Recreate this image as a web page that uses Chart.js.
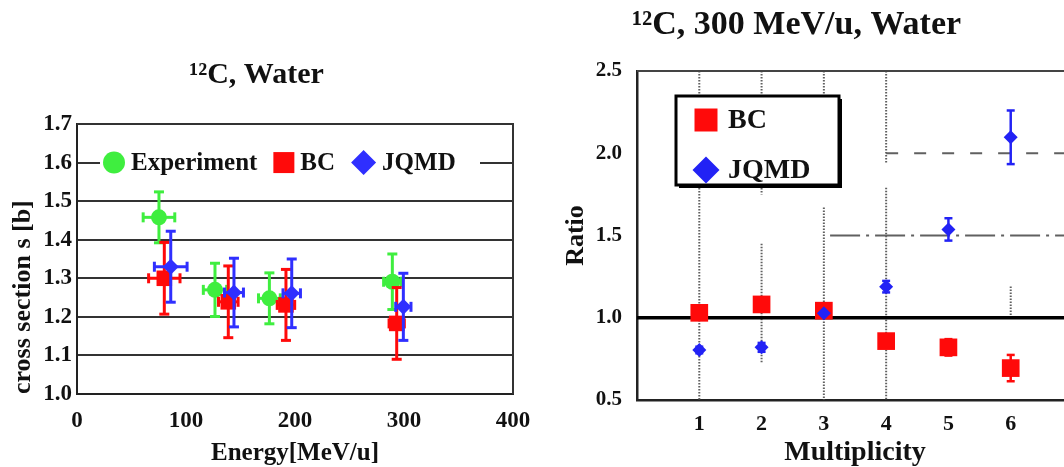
<!DOCTYPE html>
<html>
<head>
<meta charset="utf-8">
<script src="https://cdn.jsdelivr.net/npm/chart.js@4.4.1/dist/chart.umd.min.js"></script>
<style>
  html, body { margin: 0; padding: 0; background: #fff; width: 1064px; height: 467px; overflow: hidden; }
  canvas { position: absolute; top: 0; }
  #energyChart { left: 0; }
  #multiplicityChart { left: 520px; }
</style>
</head>
<body>
<canvas id="energyChart" width="530" height="467"></canvas>
<canvas id="multiplicityChart" width="556" height="467"></canvas>
<script>
// ---- Cross section vs. beam energy (12C on water) ----
const energyExp     = [75.2, 126.6, 176.5, 289.3];
const energyExpErr  = [14.5, 10.7, 10.0, 8.0];
const xsExp         = [1.458, 1.270, 1.248, 1.291];
const xsExpErr      = [0.066, 0.069, 0.066, 0.072];

const energyBC      = [80.1, 138.8, 191.7, 293.3];
const energyBCErr   = [14.4, 9.0, 8.0, 7.0];
const xsBC          = [1.300, 1.239, 1.231, 1.183];
const xsBCErr       = [0.093, 0.093, 0.092, 0.093];

const energyJQMD    = [86.0, 144.0, 197.0, 299.4];
const energyJQMDErr = [15.0, 8.7, 8.0, 7.0];
const xsJQMD        = [1.330, 1.263, 1.261, 1.226];
const xsJQMDErr     = [0.092, 0.089, 0.089, 0.087];

const energyTicks = [0, 100, 200, 300, 400];
const xsTicks     = [1.0, 1.1, 1.2, 1.3, 1.4, 1.5, 1.6, 1.7];

// ---- Ratio to experiment vs. fragment multiplicity (300 MeV/u) ----
const multiplicity  = [1, 2, 3, 4, 5, 6];
const ratioBC       = [1.030, 1.081, 1.043, 0.858, 0.820, 0.694];
const ratioBCErr    = [0, 0, 0, 0, 0.05, 0.08];
const ratioJQMD     = [0.804, 0.820, 1.027, 1.189, 1.537, 2.097];
const ratioJQMDErr  = [0.02, 0.027, 0, 0.035, 0.068, 0.163];
const ratioTicks    = [0.5, 1.0, 1.5, 2.0, 2.5];

const SERIF = "'Liberation Serif', 'Times New Roman', serif";
const GREEN = '#3fee3f', RED = '#ff0a0a', BLUE = '#2f2fff';

const pts = (xs, ys) => xs.map((x, i) => ({ x, y: ys[i] }));

function drawMarker(ctx, style, x, y, r, color) {
  ctx.save();
  ctx.fillStyle = color;
  ctx.beginPath();
  if (style === 'circle') {
    ctx.arc(x, y, r, 0, Math.PI * 2);
  } else if (style === 'rect') {
    ctx.rect(x - r, y - r, 2 * r, 2 * r);
  } else {
    ctx.moveTo(x, y - r); ctx.lineTo(x + r, y); ctx.lineTo(x, y + r); ctx.lineTo(x - r, y); ctx.closePath();
  }
  ctx.fill();
  ctx.restore();
}

// Error bars with caps, drawn just before each dataset's own markers
const errorBars = {
  id: 'errorBars',
  beforeDatasetDraw(chart, args, opts) {
    const ds = chart.data.datasets[args.index];
    const xs = chart.scales.x, ys = chart.scales.y, ctx = chart.ctx;
    const seg = (a, b, c, d) => { ctx.beginPath(); ctx.moveTo(a, b); ctx.lineTo(c, d); ctx.stroke(); };
    ctx.save();
    ctx.strokeStyle = ds.backgroundColor;
    ctx.lineWidth = opts.width;
    const cap = opts.cap;
    ds.data.forEach((p, i) => {
      const px = xs.getPixelForValue(p.x), py = ys.getPixelForValue(p.y);
      const ey = ds.errorY ? ds.errorY[i] : 0;
      const ex = ds.errorX ? ds.errorX[i] : 0;
      if (ey) {
        const t = ys.getPixelForValue(p.y + ey), b = ys.getPixelForValue(p.y - ey);
        seg(px, t, px, b); seg(px - cap, t, px + cap, t); seg(px - cap, b, px + cap, b);
      }
      if (ex) {
        const l = xs.getPixelForValue(p.x - ex), r = xs.getPixelForValue(p.x + ex);
        seg(l, py, r, py); seg(l, py - cap, l, py + cap); seg(r, py - cap, r, py + cap);
      }
    });
    ctx.restore();
  }
};

// Right and top edges of the plot frame
const frame = {
  id: 'frame',
  afterDatasetsDraw(chart, args, opts) {
    const { ctx, chartArea: a } = chart;
    ctx.save();
    ctx.strokeStyle = opts.color; ctx.lineWidth = 2;
    ctx.beginPath();
    ctx.moveTo(a.left, a.top); ctx.lineTo(a.right, a.top);
    if (opts.right) { ctx.lineTo(a.right, a.bottom); }
    ctx.stroke();
    ctx.restore();
  }
};

// One-row legend placed inside the plot on the 1.6 grid line
const rowLegend = {
  id: 'rowLegend',
  afterDatasetsDraw(chart, args, opts) {
    const { ctx, chartArea: a } = chart;
    const y = chart.scales.y.getPixelForValue(opts.atValue);
    ctx.save();
    ctx.font = `bold 25px ${SERIF}`;
    ctx.textBaseline = 'middle';
    ctx.fillStyle = '#fff';
    ctx.fillRect(a.left + 23, y - 15, 380, 30);
    let cx = a.left + 26;
    chart.data.datasets.forEach((ds, i) => {
      const r = opts.sizes[i];
      drawMarker(ctx, ds.pointStyle === 'rectRot' ? 'diamond' : ds.pointStyle, cx + r, y, r, ds.backgroundColor);
      cx += 2 * r + 6;
      ctx.fillStyle = '#111';
      ctx.fillText(ds.label, cx, y + 1);
      cx += ctx.measureText(ds.label).width + 16;
    });
    ctx.restore();
  }
};

new Chart(document.getElementById('energyChart'), {
  type: 'scatter',
  data: {
    datasets: [
      { label: 'Experiment', data: pts(energyExp, xsExp), errorX: energyExpErr, errorY: xsExpErr,
        backgroundColor: GREEN, borderColor: GREEN, pointStyle: 'circle', pointRadius: 8, borderWidth: 0, order: 3 },
      { label: 'BC', data: pts(energyBC, xsBC), errorX: energyBCErr, errorY: xsBCErr,
        backgroundColor: RED, borderColor: RED, pointStyle: 'rect', pointRadius: 11, borderWidth: 0, order: 2 },
      { label: 'JQMD', data: pts(energyJQMD, xsJQMD), errorX: energyJQMDErr, errorY: xsJQMDErr,
        backgroundColor: BLUE, borderColor: BLUE, pointStyle: 'rectRot', pointRadius: 8, borderWidth: 0, order: 1 }
    ]
  },
  options: {
    responsive: false, animation: false, devicePixelRatio: 1,
    layout: { autoPadding: false, padding: { left: 0, right: 17, top: 0, bottom: 0 } },
    plugins: {
      legend: { display: false }, tooltip: { enabled: false },
      title: { display: true, text: '¹²C, Water', color: '#111',
        font: { family: SERIF, size: 30, weight: 'bold', lineHeight: 1.2 }, padding: { top: 57, bottom: 31 } },
      errorBars: { width: 3, cap: 5 },
      frame: { color: '#333', right: true },
      rowLegend: { atValue: 1.6, sizes: [11, 10.5, 12.5] }
    },
    scales: {
      x: {
        type: 'linear', min: energyTicks[0], max: energyTicks[energyTicks.length - 1],
        afterBuildTicks: s => { s.ticks = energyTicks.map(v => ({ value: v })); },
        afterFit: s => { s.height = 73; s.paddingRight = 0; s.paddingLeft = 0; },
        grid: { display: false, drawTicks: false },
        border: { display: true, color: '#222', width: 2 },
        ticks: { padding: 13, color: '#111', font: { family: SERIF, size: 23, weight: 'bold' } },
        title: { display: true, text: 'Energy[MeV/u]', color: '#111', padding: { top: 0, bottom: 1 },
          font: { family: SERIF, size: 25, weight: 'bold', lineHeight: 1 } }
      },
      y: {
        min: xsTicks[0], max: xsTicks[xsTicks.length - 1],
        afterBuildTicks: s => { s.ticks = xsTicks.map(v => ({ value: v })); },
        afterFit: s => { s.width = 77; },
        grid: { color: '#333', lineWidth: 2, drawTicks: false },
        border: { display: true, color: '#222', width: 2 },
        ticks: { padding: 5, color: '#111', font: { family: SERIF, size: 23, weight: 'bold' },
          callback: v => Number(v).toFixed(1) },
        title: { display: true, text: 'cross section s [b]', color: '#111', align: 'start',
          padding: { top: 10, bottom: 0 }, font: { family: SERIF, size: 26, weight: 'bold', lineHeight: 1 } }
      }
    }
  },
  plugins: [errorBars, frame, rowLegend]
});

// Dotted / dashed guide lines and the unity line of the ratio panel
const ratioGuides = {
  id: 'ratioGuides',
  beforeDatasetsDraw(chart, args, opts) {
    const { ctx, chartArea: a } = chart;
    const xs = chart.scales.x, ys = chart.scales.y;
    ctx.save();
    ctx.strokeStyle = '#606060';
    ctx.lineWidth = 2;
    ctx.setLineDash([1.5, 1.5]);
    opts.vertical.forEach(g => {
      const x = xs.getPixelForValue(g.x);
      ctx.beginPath(); ctx.moveTo(x, ys.getPixelForValue(g.to)); ctx.lineTo(x, ys.getPixelForValue(g.from)); ctx.stroke();
    });
    opts.horizontal.forEach(g => {
      const y = ys.getPixelForValue(g.y);
      ctx.setLineDash(g.dash);
      ctx.beginPath(); ctx.moveTo(xs.getPixelForValue(g.from), y); ctx.lineTo(xs.getPixelForValue(g.to), y); ctx.stroke();
    });
    ctx.setLineDash([]);
    ctx.strokeStyle = '#000';
    ctx.lineWidth = 3.5;
    const y1 = ys.getPixelForValue(opts.unity);
    ctx.beginPath(); ctx.moveTo(a.left, y1); ctx.lineTo(a.right, y1); ctx.stroke();
    ctx.restore();
  }
};

// Boxed legend in the upper-left corner of the ratio panel
const boxLegend = {
  id: 'boxLegend',
  afterDraw(chart, args, opts) {
    const { ctx, chartArea: a } = chart;
    const bx = a.left + 39, by = a.top + 25, bw = 163, bh = 89;
    ctx.save();
    ctx.fillStyle = '#000';
    ctx.fillRect(bx + 3, by + 3, bw, bh);
    ctx.fillStyle = '#fff';
    ctx.fillRect(bx, by, bw, bh);
    ctx.strokeStyle = '#000'; ctx.lineWidth = 3;
    ctx.strokeRect(bx, by, bw, bh);
    ctx.font = `bold 28px ${SERIF}`;
    ctx.textBaseline = 'middle';
    chart.data.datasets.forEach((ds, i) => {
      const cy = by + 24 + i * 50;
      const isRect = ds.pointStyle === 'rect';
      drawMarker(ctx, isRect ? 'rect' : 'diamond', bx + 30, cy, isRect ? 11.5 : 13.5, ds.backgroundColor);
      ctx.fillStyle = '#111';
      ctx.fillText(ds.label, bx + 52, cy + 1);
    });
    ctx.restore();
  }
};

new Chart(document.getElementById('multiplicityChart'), {
  type: 'scatter',
  data: {
    datasets: [
      { label: 'BC', data: pts(multiplicity, ratioBC), errorY: ratioBCErr,
        backgroundColor: RED, borderColor: RED, pointStyle: 'rect', pointRadius: 12.5, borderWidth: 0, order: 2 },
      { label: 'JQMD', data: pts(multiplicity, ratioJQMD), errorY: ratioJQMDErr,
        backgroundColor: '#2222f5', borderColor: '#2222f5', pointStyle: 'rectRot', pointRadius: 7, borderWidth: 0, order: 1 }
    ]
  },
  options: {
    responsive: false, animation: false, devicePixelRatio: 1,
    layout: { autoPadding: false, padding: { left: 0, right: 3, top: 0, bottom: 0 } },
    plugins: {
      legend: { display: false }, tooltip: { enabled: false },
      title: { display: true, text: '¹²C, 300 MeV/u, Water', color: '#111',
        font: { family: SERIF, size: 34, weight: 'bold', lineHeight: 1.2 }, padding: { top: 5, bottom: 25.2 } },
      errorBars: { width: 2.5, cap: 4 },
      frame: { color: '#444', right: false },
      ratioGuides: {
        unity: 1.0,
        vertical: [
          { x: 1, from: 0.5, to: 2.5 },
          { x: 2, from: 1.75, to: 2.5 }, { x: 2, from: 0.72, to: 1.45 },
          { x: 3, from: 1.85, to: 2.5 }, { x: 3, from: 0.5, to: 1.67 },
          { x: 4, from: 1.94, to: 2.5 }, { x: 4, from: 0.5, to: 1.79 },
          { x: 6, from: 1.0, to: 1.19 }
        ],
        horizontal: [
          { y: 2.0, from: 4, to: 7, dash: [12, 16] },
          { y: 1.5, from: 3.1, to: 7, dash: [30, 6, 3, 6] }
        ]
      }
    },
    scales: {
      x: {
        type: 'linear', min: 0, max: 7,
        afterBuildTicks: s => { s.ticks = multiplicity.map(v => ({ value: v })); },
        afterFit: s => { s.height = 67; s.paddingRight = 0; s.paddingLeft = 0; },
        grid: { display: false, drawTicks: false },
        border: { display: true, color: '#222', width: 2.5 },
        ticks: { padding: 11, color: '#111', font: { family: SERIF, size: 22, weight: 'bold' } },
        title: { display: true, text: 'Multiplicity', color: '#111', padding: { top: 0, bottom: 0 },
          font: { family: SERIF, size: 28, weight: 'bold', lineHeight: 1 } }
      },
      y: {
        min: ratioTicks[0], max: ratioTicks[ratioTicks.length - 1],
        afterBuildTicks: s => { s.ticks = ratioTicks.map(v => ({ value: v })); },
        afterFit: s => { s.width = 117; },
        grid: { display: false, drawTicks: false },
        border: { display: true, color: '#222', width: 2.5 },
        ticks: { padding: 15, color: '#111', font: { family: SERIF, size: 21, weight: 'bold' },
          callback: v => Number(v).toFixed(1) },
        title: { display: true, text: 'Ratio', color: '#111', padding: { top: 43, bottom: 0 },
          font: { family: SERIF, size: 26, weight: 'bold', lineHeight: 1 } }
      }
    }
  },
  plugins: [ratioGuides, errorBars, frame, boxLegend]
});
</script>
</body>
</html>
